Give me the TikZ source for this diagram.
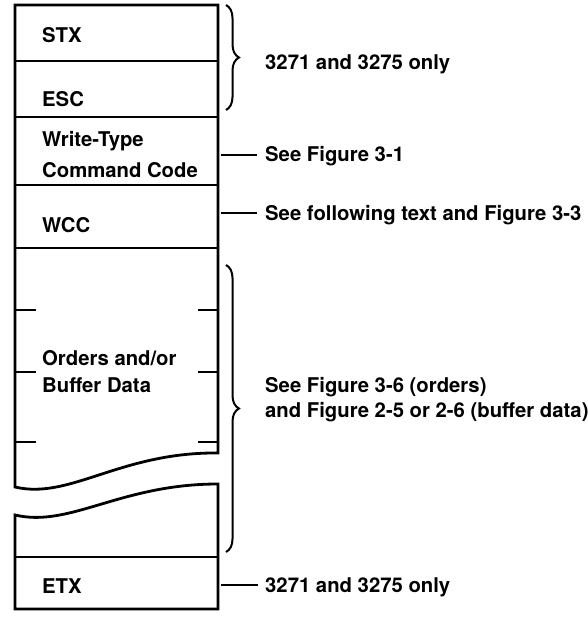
\documentclass[tikz,border=0pt]{standalone}
\usepackage{fontspec}
\setmainfont{TeX Gyre Heros}
\usetikzlibrary{decorations.pathreplacing}
\begin{document}
\begin{tikzpicture}[x=1pt,y=-1pt,
  frame/.style={line width=2.8pt, line join=miter},
  divider/.style={line width=2.8pt},
  tick/.style={line width=2.8pt},
  lbl/.style={anchor=base west, inner sep=0pt, font=\bfseries\fontsize{20.3}{24}\selectfont},
  lead/.style={line width=2.5pt},
  brc/.style={line width=2pt, decorate, decoration={brace, amplitude=13pt}}]
\useasboundingbox (0,0) rectangle (587,620);
% record outline (upper piece and lower piece, broken by a wave)
\draw[frame] (15,5) -- (218,5) -- (218,453)
  .. controls (120,452) and (70,500) .. (15,487) -- cycle;
\draw[frame] (15,515) .. controls (70,528) and (120,484) .. (218,484)
  -- (218,609) -- (15,609) -- cycle;
% field dividers
\foreach \yy in {61,117,185,248,557} \draw[divider] (15,\yy) -- (218,\yy);
% ticks in the variable part
\foreach \yy in {310,372,442} {
  \draw[tick] (15,\yy) -- (36,\yy);
  \draw[tick] (198,\yy) -- (218,\yy);
}
% field labels
\node[lbl] (stx) at (42,43) {STX};
\node[lbl] (esc) at (42,107) {ESC};
\node[lbl] (wt1) at (42,147) {Write-Type};
\node[lbl] (wt2) at (42,178) {Command Code};
\node[lbl] (wcc) at (42,232) {WCC};
\node[lbl] (ord1) at (42,365) {Orders and/or};
\node[lbl] (ord2) at (42,392) {Buffer Data};
\node[lbl] (etx) at (42,593) {ETX};
% braces
\draw[brc] (226,5) -- (226,110);
\draw[brc] (226,265) -- (226,552);
% notes
\node[lbl] (n1) at (265,70) {3271 and 3275 only};
\node[lbl] (n2) at (265,162) {See Figure 3-1};
\node[lbl] (n3) at (265,220) {See following text and Figure 3-3};
\node[lbl] (n4a) at (265,392) {See Figure 3-6 (orders)};
\node[lbl] (n4b) at (265,417) {and Figure 2-5 or 2-6 (buffer data)};
\node[lbl] (n5) at (265,592) {3271 and 3275 only};
% leader dashes
\coordinate (a2) at (221,155); \coordinate (b2) at (257,155);
\coordinate (a3) at (221,213); \coordinate (b3) at (257,213);
\coordinate (a5) at (221,585); \coordinate (b5) at (258,585);
\draw[lead] (a2) -- (b2);
\draw[lead] (a3) -- (b3);
\draw[lead] (a5) -- (b5);
\end{tikzpicture}
\end{document}
